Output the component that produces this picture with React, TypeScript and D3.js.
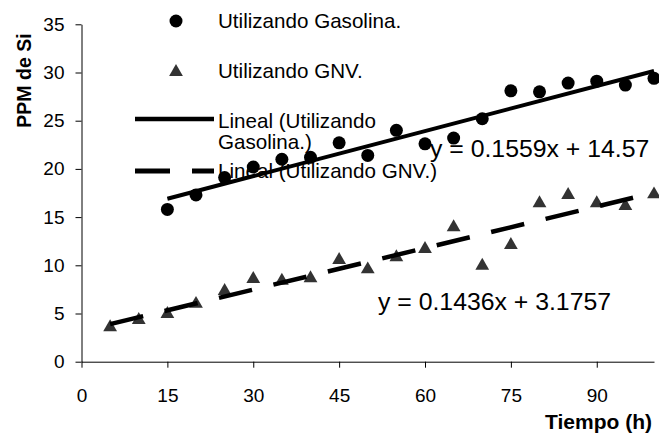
import React, { useEffect, useRef } from 'react';
import * as d3 from 'd3';

const horasGasolina = [15, 20, 25, 30, 35, 40, 45, 50, 55, 60, 65, 70, 75, 80, 85, 90, 95, 100];
const ppmGasolina = [15.8, 17.3, 19.1, 20.2, 21.0, 21.2, 22.7, 21.4, 24.0, 22.6, 23.2, 25.2, 28.1, 28.0, 28.9, 29.1, 28.7, 29.4];

const horasGnv = [5, 10, 15, 20, 25, 30, 35, 40, 45, 50, 55, 60, 65, 70, 75, 80, 85, 90, 95, 100];
const ppmGnv = [3.57, 4.33, 4.95, 6.0, 7.33, 8.58, 8.4, 8.65, 10.55, 9.58, 10.83, 11.69, 13.94, 9.96, 12.1, 16.43, 17.29, 16.43, 16.15, 17.36];

// trend line coefficients (slope, intercept) as printed on the chart
const trendGasolina = [0.1559, 14.57];
const trendGnv = [0.1436, 3.1757];

const xTicks = [0, 15, 30, 45, 60, 75, 90];
const yTicks = [0, 5, 10, 15, 20, 25, 30, 35];

const FONT = '"Liberation Sans", Arial, sans-serif';

export default function App() {
  const ref = useRef<SVGSVGElement>(null);

  useEffect(() => {
    document.body.style.margin = '0';
    const svg = d3.select(ref.current);
    svg.selectAll('*').remove();

    const x = d3.scaleLinear().domain([0, 100]).range([81.5, 654]);
    const y = d3.scaleLinear().domain([0, 35]).range([361.7, 24.3]);

    // axes
    const gx = svg
      .append('g')
      .attr('transform', `translate(0,${y(0)})`)
      .call(d3.axisBottom(x).tickValues(xTicks).tickSize(6).tickSizeOuter(0).tickPadding(21));
    const gy = svg
      .append('g')
      .attr('transform', `translate(${x(0)},0)`)
      .call(d3.axisLeft(y).tickValues(yTicks).tickSize(6).tickSizeOuter(0).tickPadding(11));
    [gx, gy].forEach(g => {
      g.selectAll('text').attr('font-family', FONT).attr('font-size', 19).attr('fill', '#000');
      g.selectAll('line,path').attr('stroke', '#000');
    });

    const trend = (c: number[], x0: number, x1: number) =>
      d3.line<number>().x(d => x(d)).y(d => y(c[0] * d + c[1]))([x0, x1]);

    // points
    svg
      .append('g')
      .selectAll('circle')
      .data(horasGasolina)
      .enter()
      .append('circle')
      .attr('cx', d => x(d))
      .attr('cy', (d, i) => y(ppmGasolina[i]))
      .attr('r', 6.5)
      .attr('fill', '#000');

    const tri = d3.symbol().type(d3.symbolTriangle).size(82);
    svg
      .append('g')
      .selectAll('path')
      .data(horasGnv)
      .enter()
      .append('path')
      .attr('d', tri() as string)
      .attr('transform', (d, i) => `translate(${x(d)},${y(ppmGnv[i])})`)
      .attr('fill', '#333');

    svg
      .append('path')
      .attr('d', trend(trendGasolina, horasGasolina[0], 100) as string)
      .attr('stroke', '#000')
      .attr('stroke-width', 4)
      .attr('fill', 'none');
    svg
      .append('path')
      .attr('d', trend(trendGnv, horasGnv[0], 100) as string)
      .attr('stroke', '#000')
      .attr('stroke-width', 4.5)
      .attr('stroke-dasharray', '34 22')
      .attr('fill', 'none');

    // legend
    const lg = svg.append('g').attr('font-family', FONT).attr('font-size', 20.6).attr('fill', '#000');
    lg.append('circle').attr('cx', 176).attr('cy', 21).attr('r', 6.5).attr('fill', '#000');
    lg.append('text').attr('x', 218).attr('y', 28).text('Utilizando Gasolina.');
    lg.append('path').attr('d', tri() as string).attr('transform', 'translate(176,72)').attr('fill', '#333');
    lg.append('text').attr('x', 218).attr('y', 78).text('Utilizando GNV.');
    lg.append('line').attr('x1', 135).attr('x2', 214).attr('y1', 119).attr('y2', 119)
      .attr('stroke', '#000').attr('stroke-width', 4.5);
    lg.append('text').attr('x', 218).attr('y', 128).text('Lineal (Utilizando');
    lg.append('text').attr('x', 218).attr('y', 149).text('Gasolina.)');
    lg.append('line').attr('x1', 135).attr('x2', 214).attr('y1', 171).attr('y2', 171)
      .attr('stroke', '#000').attr('stroke-width', 5).attr('stroke-dasharray', '35 22');
    lg.append('text').attr('x', 218).attr('y', 178).text('Lineal (Utilizando GNV.)');

    // equations
    const fmt = (c: number[]) => `y = ${c[0]}x + ${c[1]}`;
    svg.append('text').attr('x', 430).attr('y', 157).attr('font-family', FONT).attr('font-size', 24.8)
      .text(fmt(trendGasolina));
    svg.append('text').attr('x', 378).attr('y', 310).attr('font-family', FONT).attr('font-size', 24.8)
      .text(fmt(trendGnv));

    // axis titles
    svg.append('text').attr('x', 652).attr('y', 429).attr('text-anchor', 'end')
      .attr('font-family', FONT).attr('font-size', 21).attr('font-weight', 'bold').text('Tiempo (h)');
    svg.append('text').attr('transform', 'translate(31,80.5) rotate(-90)').attr('text-anchor', 'middle')
      .attr('font-family', FONT).attr('font-size', 19.5).attr('font-weight', 'bold').text('PPM de Si');
  }, []);

  return <svg ref={ref} width={659} height={435} style={{ display: 'block', background: '#fff' }} />;
}
